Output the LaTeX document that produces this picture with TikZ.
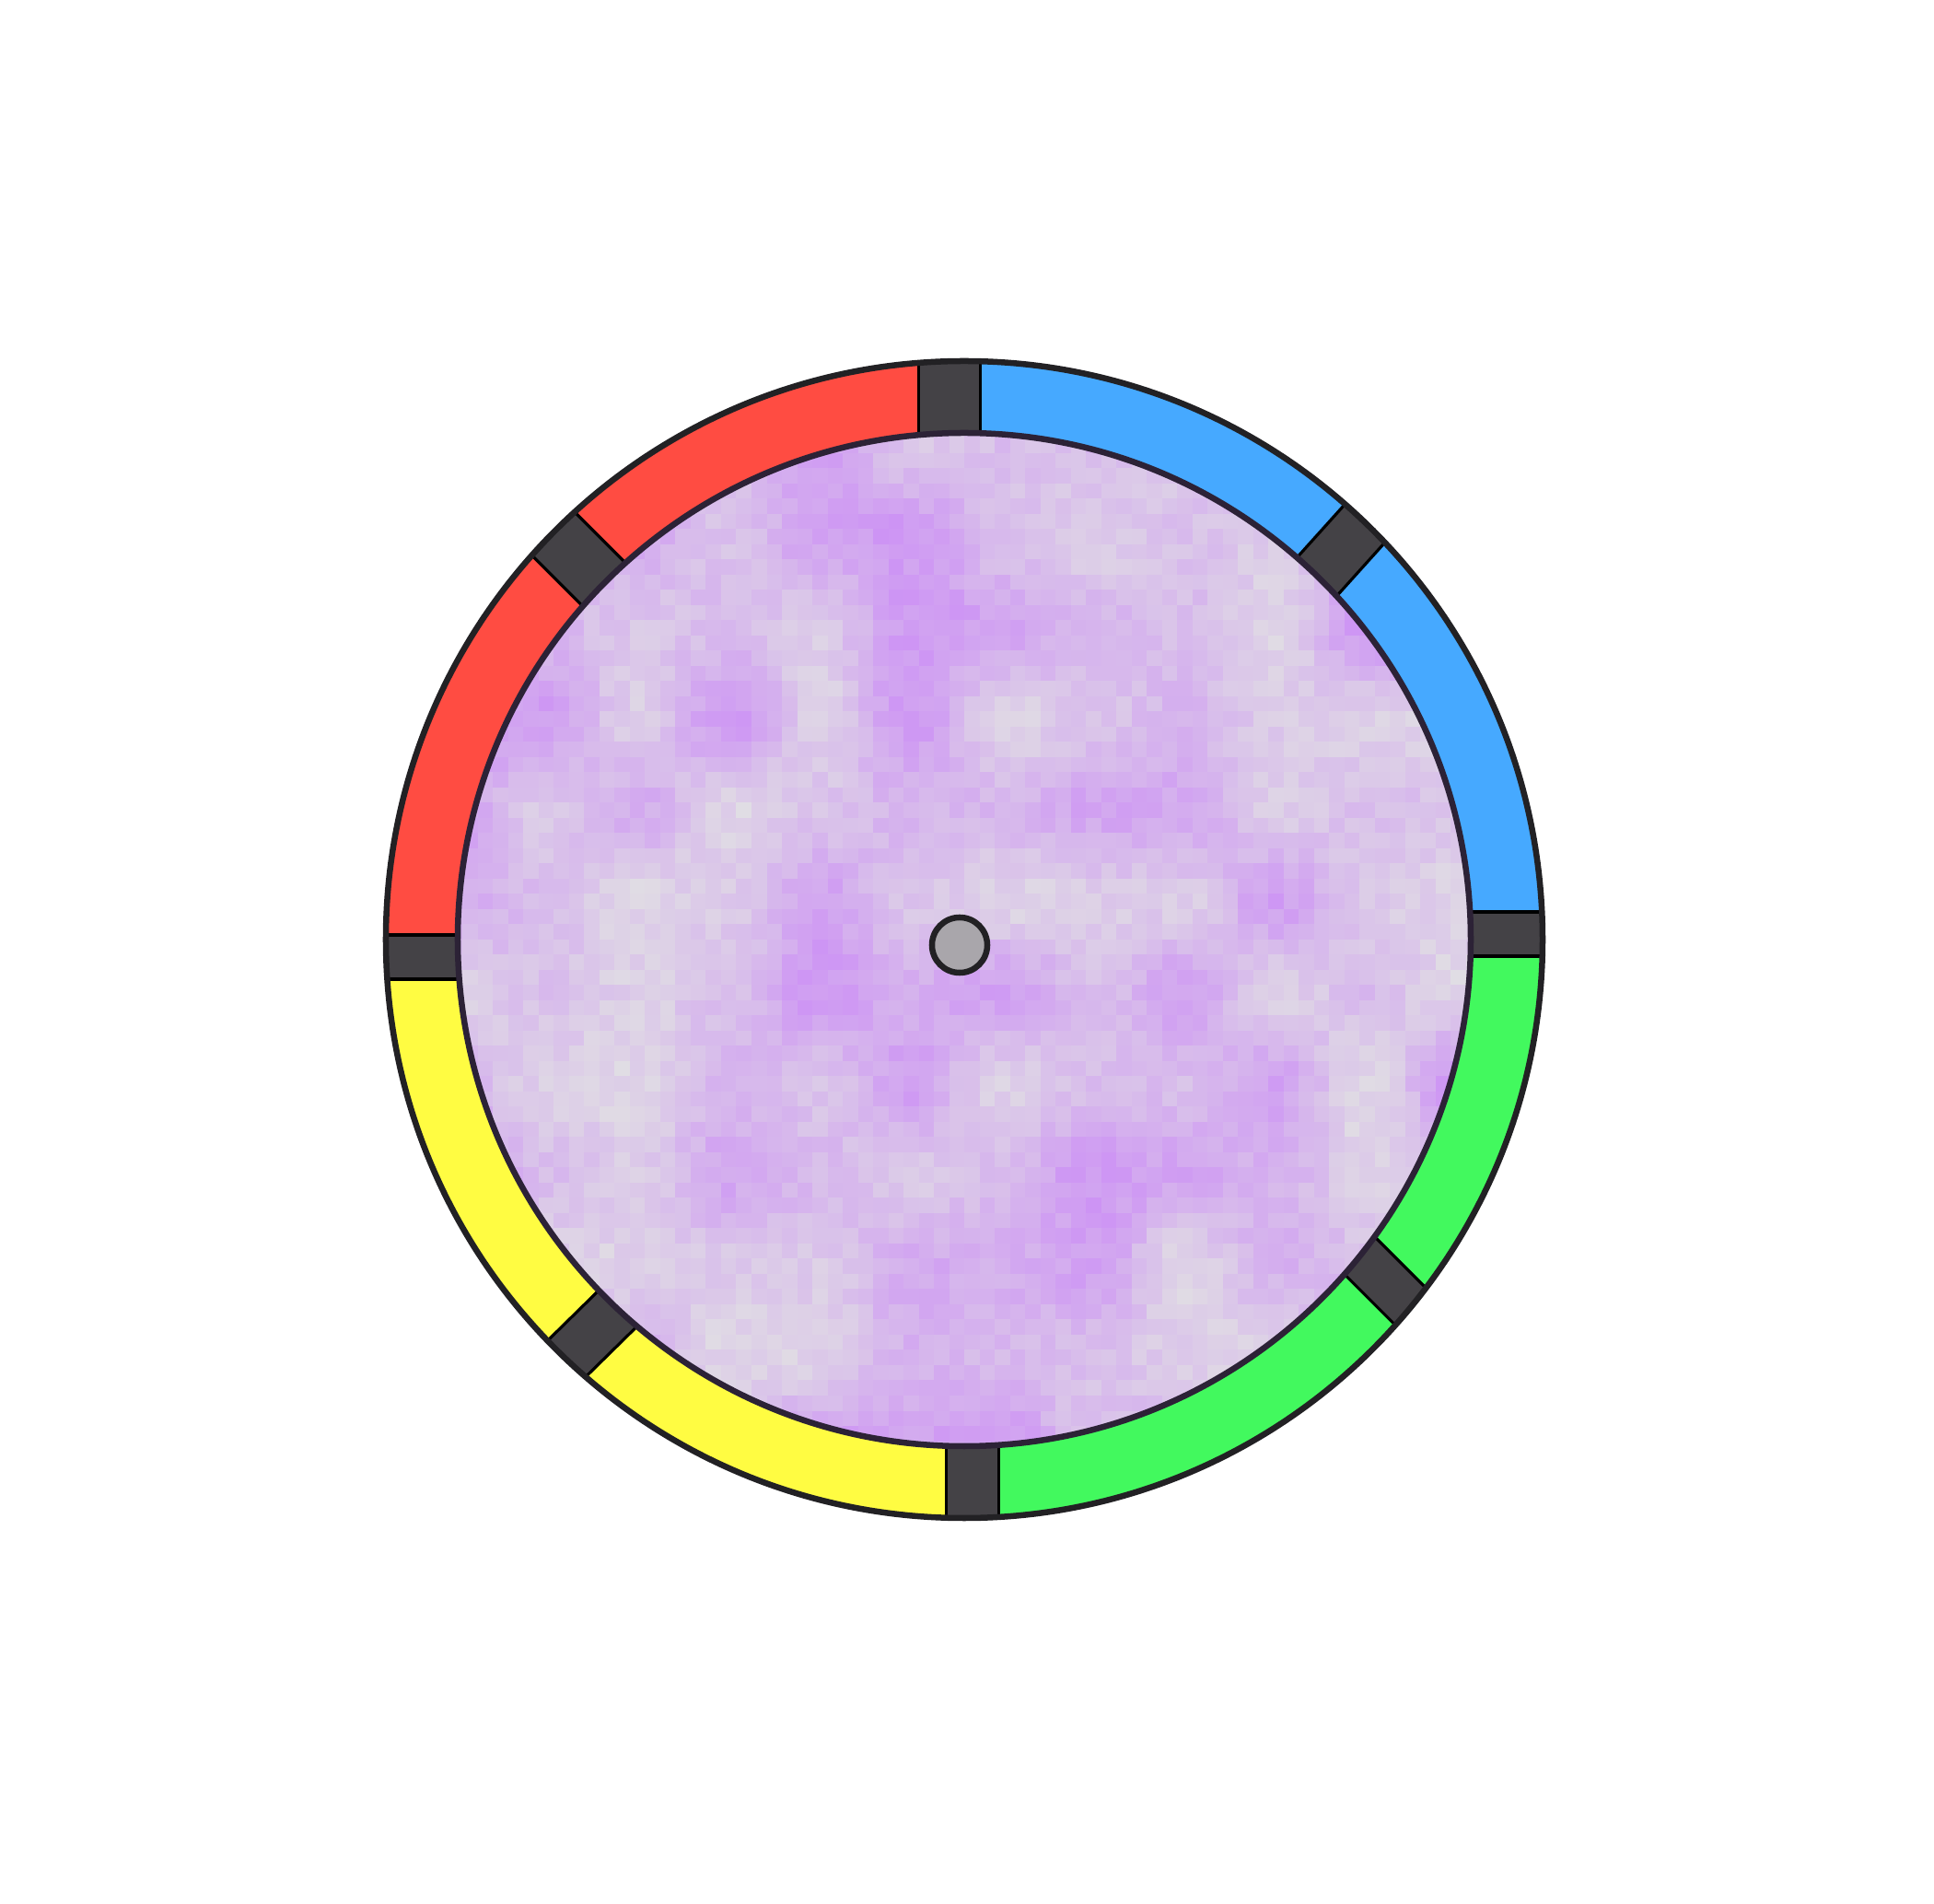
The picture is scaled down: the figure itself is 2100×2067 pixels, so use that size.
\documentclass[tikz,border=0pt]{standalone}
\usepackage{tikz}
\definecolor{ringred}{HTML}{FF4C42}
\definecolor{ringblue}{HTML}{46A9FF}
\definecolor{ringgreen}{HTML}{42F95E}
\definecolor{ringyellow}{HTML}{FFFC42}
\definecolor{sepgray}{HTML}{444246}
\definecolor{discbase}{HTML}{E1DEE4}
\definecolor{haze}{HTML}{CA86F8}
\definecolor{hubgray}{HTML}{A9A6AB}
\definecolor{rimdark}{HTML}{222124}
\definecolor{rimpurple}{HTML}{2C2236}

\begin{document}
\begin{tikzpicture}[x=0.01cm, y=0.01cm, rim/.style={draw=rimdark, line width=1.85pt}, sepbox/.style={fill=sepgray}, sepedge/.style={draw=black, line width=0.9pt}]
\useasboundingbox (-1047,-1047) rectangle (1053,1020);
\fill[white] (-1047,-1047) rectangle (1053,1020);

% disc with the purple haze (smooth value noise on a coarse grid)
\pgfmathsetseed{42}
\foreach \ka in {0,...,14}
  \foreach \kb in {0,...,14} {
    \pgfmathsetmacro{\nv}{rnd}
    \expandafter\xdef\csname nz\ka-\kb\endcsname{\nv}
  }
\begin{scope}
\clip (0,0) circle (550);
\fill[discbase] (0,0) circle (550);
\foreach \gx in {0,...,67}
  \foreach \gy in {0,...,67} {
    \pgfmathtruncatemacro{\ca}{\gx/6}
    \pgfmathtruncatemacro{\cb}{\gy/6}
    \pgfmathtruncatemacro{\cc}{\ca+1}
    \pgfmathtruncatemacro{\cd}{\cb+1}
    \pgfmathsetmacro{\su}{\gx/6-\ca}
    \pgfmathsetmacro{\sv}{\gy/6-\cb}
    \pgfmathsetmacro{\su}{\su*\su*(3-2*\su)}
    \pgfmathsetmacro{\sv}{\sv*\sv*(3-2*\sv)}
    \edef\va{\csname nz\ca-\cb\endcsname}
    \edef\vb{\csname nz\cc-\cb\endcsname}
    \edef\vc{\csname nz\ca-\cd\endcsname}
    \edef\vd{\csname nz\cc-\cd\endcsname}
    \pgfmathsetmacro{\nv}{(1-\sv)*((1-\su)*\va+\su*\vb)+\sv*((1-\su)*\vc+\su*\vd)}
    \pgfmathsetmacro{\op}{max(0,min(1,1.2*\nv-0.1))*0.62+0.22*rnd}
    \fill[haze, opacity=\op] (-561+\gx*16.5,-561+\gy*16.5) rectangle +(16.5,16.5);
  }
\end{scope}

% coloured ring
\fill[ringblue] (0:628) arc (0:90:628) -- (90:550) arc (90:0:550) -- cycle;
\fill[ringred] (90:628) arc (90:180:628) -- (180:550) arc (180:90:550) -- cycle;
\fill[ringyellow] (180:628) arc (180:270:628) -- (270:550) arc (270:180:550) -- cycle;
\fill[ringgreen] (270:628) arc (270:360:628) -- (0:550) arc (360:270:550) -- cycle;

% separators: angle / side shift / width
\begin{scope}[even odd rule]
\clip (0,0) circle (628) (0,0) circle (550);
\foreach \th/\dd/\wd in {90/16/67, 48/-21/60, 0/6/48, -45/61/52, 270/9/57, 224.5/22/57, 180/19/48, 135/4/66} {
  \fill[sepbox, rotate=\th] (520,\dd-\wd/2) rectangle (660,\dd+\wd/2);
  \draw[sepedge, rotate=\th] (520,\dd-\wd/2) -- (660,\dd-\wd/2) (520,\dd+\wd/2) -- (660,\dd+\wd/2);
}
\end{scope}

% rims
\draw[rim] (0,0) circle (628);
\draw[rim, draw=rimpurple] (0,0) circle (550);

% hub
\node[circle, draw=rimdark, line width=1.85pt, fill=hubgray, minimum size=0.6cm, inner sep=0pt] (hub) at (-5,-6) {};
\end{tikzpicture}
\end{document}
